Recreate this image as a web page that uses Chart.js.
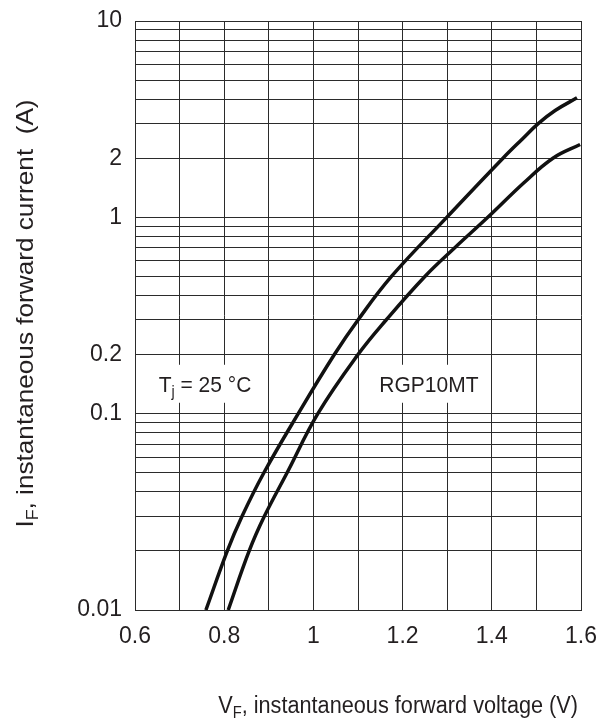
<!DOCTYPE html>
<html>
<head>
<meta charset="utf-8">
<script src="https://cdn.jsdelivr.net/npm/chart.js@4/dist/chart.umd.min.js"></script>
<style>
  html, body { margin: 0; padding: 0; background: #fff; }
  canvas { display: block; }
</style>
</head>
<body>
<canvas id="myChart" width="602" height="727"></canvas>
<script>
// forward characteristic
const voltageUpper = [0.759, 0.807, 0.840, 0.889, 0.966, 1.047, 1.100, 1.175, 1.299, 1.425, 1.468, 1.504, 1.542, 1.591];
const currentUpper = [0.01, 0.02, 0.03, 0.05, 0.1, 0.2, 0.3, 0.5, 1.0, 2.0, 2.5, 3.0, 3.5, 4.06];

const voltageLower = [0.809, 0.856, 0.890, 0.941, 1.010, 1.100, 1.163, 1.250, 1.317, 1.391, 1.472, 1.537, 1.598];
const currentLower = [0.01, 0.02, 0.03, 0.05, 0.1, 0.2, 0.3, 0.5, 0.7, 1.0, 1.5, 2.0, 2.35];

const xGridValues = [0.6, 0.7, 0.8, 0.9, 1.0, 1.1, 1.2, 1.3, 1.4, 1.5, 1.6];
const xTickLabels = [0.6, 0.8, 1, 1.2, 1.4, 1.6];
const yGridValues = [
  0.01, 0.02, 0.03, 0.04, 0.05, 0.06, 0.07, 0.08, 0.09,
  0.1, 0.2, 0.3, 0.4, 0.5, 0.6, 0.7, 0.8, 0.9,
  1, 2, 3, 4, 5, 6, 7, 8, 9, 10
];
const yTickLabels = [0.01, 0.1, 0.2, 1, 2, 10];

const FAMILY = '"Liberation Sans", Arial, Helvetica, sans-serif';
const INK = '#231f20';
const STRETCH = 1.09; // text in the original is a little taller than wide

function toPoints(xs, ys) {
  return xs.map((x, i) => ({ x: x, y: ys[i] }));
}

function hasValue(list, v) {
  return list.some(t => Math.abs(t - v) < 1e-6 * Math.max(1, t));
}

function richWidth(ctx, parts, size) {
  let w = 0;
  for (const [t, sub] of parts) {
    ctx.font = `${sub ? size * 0.68 : size}px ${FAMILY}`;
    w += ctx.measureText(t).width;
  }
  return w;
}

function drawRich(ctx, parts, x, y, size) {
  let cx = x;
  for (const [t, sub] of parts) {
    ctx.font = `${sub ? size * 0.68 : size}px ${FAMILY}`;
    ctx.fillText(t, cx, sub ? y + size * 0.22 : y);
    cx += ctx.measureText(t).width;
  }
}

// white boxed labels inside the plot
const labelBoxes = {
  id: 'labelBoxes',
  beforeDatasetsDraw(chart) {
    const ctx = chart.ctx;
    const xs = chart.scales.x, ys = chart.scales.y;
    const items = [
      { x: 0.757, y: 0.142, parts: [['T'], ['j', true], [' = 25 °C']] },
      { x: 1.259, y: 0.142, parts: [['RGP10MT']] }
    ];
    const size = 21;
    ctx.save();
    ctx.textBaseline = 'alphabetic';
    for (const it of items) {
      const cx = xs.getPixelForValue(it.x);
      const cy = ys.getPixelForValue(it.y);
      const w = richWidth(ctx, it.parts, size);
      ctx.fillStyle = '#fff';
      ctx.fillRect(cx - w / 2 - 11, cy - 19, w + 22, 38);
      ctx.fillStyle = INK;
      ctx.save();
      ctx.translate(cx - w / 2, cy + size * 0.716 * STRETCH / 2);
      ctx.scale(1, STRETCH);
      drawRich(ctx, it.parts, 0, 0, size);
      ctx.restore();
    }
    ctx.restore();
  }
};

// axis titles with subscripts
const axisTitles = {
  id: 'axisTitles',
  afterDraw(chart) {
    const ctx = chart.ctx;
    const area = chart.chartArea;
    ctx.save();
    ctx.fillStyle = INK;
    ctx.textBaseline = 'alphabetic';

    const xParts = [['V'], ['F', true], [', instantaneous forward voltage (V)']];
    const xSize = 21.7;
    const xw = richWidth(ctx, xParts, xSize);
    ctx.save();
    ctx.translate(area.right - 3 - xw, 713);
    ctx.scale(1, STRETCH);
    drawRich(ctx, xParts, 0, 0, xSize);
    ctx.restore();

    const yParts = [['I'], ['F', true], [', instantaneous forward current  (A)']];
    const ySize = 24;
    const yw = richWidth(ctx, yParts, ySize);
    ctx.save();
    ctx.translate(33, (area.top + area.bottom) / 2 - 2);
    ctx.rotate(-Math.PI / 2);
    ctx.scale(STRETCH, 1);
    drawRich(ctx, yParts, -yw / 2, 0, ySize);
    ctx.restore();

    ctx.restore();
  }
};

const curveStyle = {
  borderColor: '#111',
  borderWidth: 3.5,
  pointRadius: 0,
  showLine: true,
  fill: false,
  tension: 0.4
};

new Chart(document.getElementById('myChart'), {
  type: 'scatter',
  data: {
    datasets: [
      Object.assign({ label: 'upper', data: toPoints(voltageUpper, currentUpper) }, curveStyle),
      Object.assign({ label: 'lower', data: toPoints(voltageLower, currentLower) }, curveStyle)
    ]
  },
  options: {
    responsive: false,
    animation: false,
    layout: { padding: { top: 21, right: 21, left: 0, bottom: 0 } },
    plugins: {
      legend: { display: false },
      tooltip: { enabled: false }
    },
    scales: {
      x: {
        type: 'linear',
        min: 0.6,
        max: 1.6,
        afterBuildTicks(scale) {
          scale.ticks = xGridValues.map(v => ({ value: v }));
        },
        afterFit(scale) {
          scale.height = 117;
          scale.paddingLeft = 0;
          scale.paddingRight = 0;
        },
        grid: { color: '#2b2b2b', lineWidth: 1, drawTicks: false },
        border: { color: '#2b2b2b', width: 1 },
        ticks: {
          autoSkip: false,
          maxRotation: 0,
          padding: 13,
          color: INK,
          font: { family: FAMILY, size: 23 },
          callback: v => hasValue(xTickLabels, v) ? String(Math.round(v * 10) / 10) : ''
        }
      },
      y: {
        type: 'logarithmic',
        min: 0.01,
        max: 10,
        afterBuildTicks(scale) {
          scale.ticks = yGridValues.map(v => ({ value: v }));
        },
        afterFit(scale) {
          scale.width = 135;
          scale.paddingTop = 0;
          scale.paddingBottom = 0;
        },
        grid: { color: '#2b2b2b', lineWidth: 1, drawTicks: false },
        border: { color: '#2b2b2b', width: 1 },
        ticks: {
          autoSkip: false,
          padding: 13,
          color: INK,
          font: { family: FAMILY, size: 23 },
          callback: v => hasValue(yTickLabels, v) ? String(v) : ''
        }
      }
    }
  },
  plugins: [labelBoxes, axisTitles]
});
</script>
</body>
</html>
